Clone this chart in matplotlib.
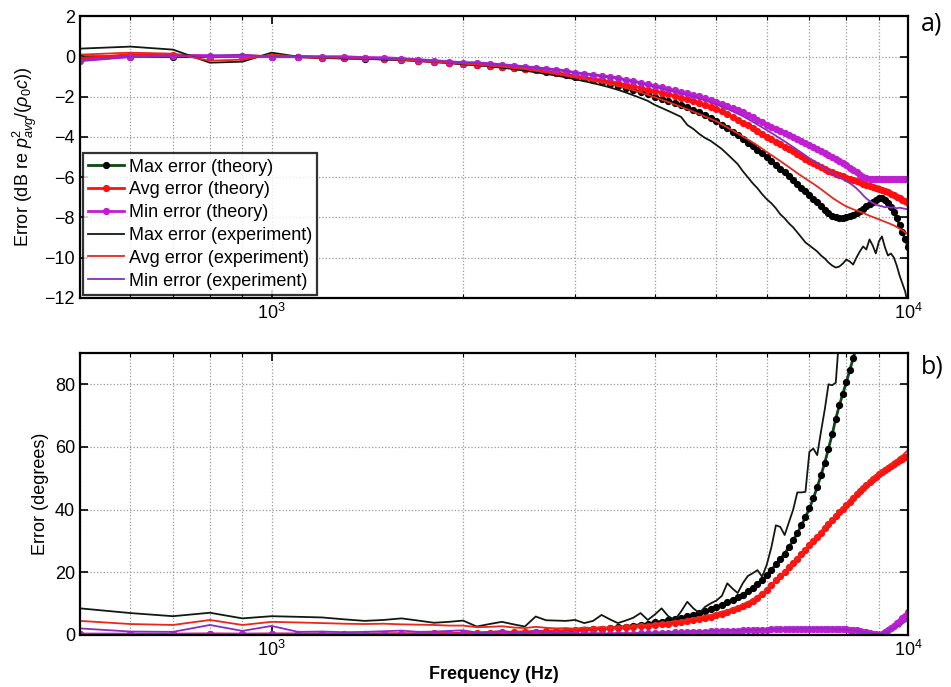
import numpy as np
import matplotlib
matplotlib.use('Agg')
import matplotlib.pyplot as plt
from matplotlib.ticker import LogLocator, NullFormatter

plt.rcParams['font.family'] = ['Liberation Sans', 'DejaVu Sans']
plt.rcParams['mathtext.fontset'] = 'custom'
plt.rcParams['mathtext.rm'] = 'Liberation Sans'
plt.rcParams['mathtext.it'] = 'Liberation Sans:italic'
plt.rcParams['mathtext.bf'] = 'Liberation Sans:bold'

# frequency samples (Hz), 100 Hz steps from 500 Hz to 10 kHz
freq = list(range(500, 10001, 100))

# ---- a) level error (dB) ----
max_theory_db = [
    0.0, 0.0, 0.0, 0.0, 0.0, 0.0,
    0.0, -0.05, -0.05, -0.1, -0.1, -0.15, -0.2, -0.25, -0.3, -0.35,
    -0.4, -0.45, -0.5, -0.56, -0.62, -0.68, -0.75, -0.83, -0.92, -1.0,
    -1.08, -1.16, -1.25, -1.34, -1.44, -1.54, -1.65, -1.76, -1.88, -2.0,
    -2.1, -2.2, -2.3, -2.4, -2.52, -2.64, -2.76, -2.9, -3.05, -3.2,
    -3.38, -3.56, -3.74, -3.92, -4.1, -4.28, -4.46, -4.64, -4.82, -5.0,
    -5.19, -5.38, -5.57, -5.76, -5.95, -6.14, -6.33, -6.52, -6.71, -6.9,
    -7.08, -7.26, -7.44, -7.62, -7.8, -7.92, -8.0, -8.04, -8.03, -7.99,
    -7.93, -7.86, -7.78, -7.68, -7.58, -7.46, -7.34, -7.22, -7.12, -7.06,
    -7.05, -7.15, -7.3, -7.5, -7.75, -8.05, -8.4, -8.75, -9.1, -9.5]
avg_theory_db = [
    -0.1, 0.1, 0.1, 0.0, 0.05, 0.0,
    0.0, -0.05, -0.05, -0.05, -0.1, -0.15, -0.2, -0.25, -0.3, -0.35,
    -0.4, -0.45, -0.5, -0.55, -0.6, -0.65, -0.72, -0.8, -0.88, -0.96,
    -1.03, -1.1, -1.17, -1.24, -1.32, -1.4, -1.48, -1.56, -1.64, -1.72,
    -1.8, -1.88, -1.96, -2.04, -2.12, -2.2, -2.3, -2.4, -2.5, -2.6,
    -2.73, -2.86, -3.0, -3.14, -3.28, -3.42, -3.56, -3.7, -3.85, -4.0,
    -4.12, -4.24, -4.36, -4.48, -4.6, -4.72, -4.84, -4.96, -5.08, -5.2,
    -5.3, -5.4, -5.49, -5.58, -5.67, -5.75, -5.83, -5.9, -5.96, -6.02,
    -6.08, -6.14, -6.2, -6.26, -6.32, -6.38, -6.43, -6.48, -6.53, -6.58,
    -6.64, -6.7, -6.76, -6.83, -6.9, -6.97, -7.04, -7.12, -7.2, -7.3]
min_theory_db = [
    -0.2, 0.0, 0.05, 0.05, 0.0, 0.0,
    0.0, 0.0, 0.0, -0.05, -0.05, -0.1, -0.15, -0.2, -0.25, -0.3,
    -0.3, -0.35, -0.4, -0.45, -0.5, -0.55, -0.6, -0.65, -0.7, -0.8,
    -0.85, -0.9, -0.95, -1.0, -1.05, -1.15, -1.2, -1.3, -1.38, -1.45,
    -1.52, -1.6, -1.68, -1.75, -1.82, -1.9, -1.98, -2.06, -2.15, -2.24,
    -2.34, -2.44, -2.55, -2.66, -2.78, -2.9, -3.02, -3.14, -3.27, -3.4,
    -3.5, -3.6, -3.7, -3.8, -3.9, -4.0, -4.1, -4.2, -4.3, -4.4,
    -4.5, -4.6, -4.7, -4.8, -4.9, -5.0, -5.1, -5.2, -5.3, -5.4,
    -5.52, -5.64, -5.76, -5.88, -5.97, -6.03, -6.07, -6.09, -6.1, -6.1,
    -6.1, -6.1, -6.1, -6.1, -6.1, -6.1, -6.1, -6.1, -6.1, -6.1]
max_exp_db = [
    0.4, 0.5, 0.35, -0.3, -0.25, 0.2,
    0.0, -0.05, -0.1, -0.1, -0.15, -0.15, -0.2, -0.25, -0.3, -0.38,
    -0.42, -0.48, -0.55, -0.62, -0.7, -0.78, -0.86, -0.94, -1.03, -1.13,
    -1.22, -1.32, -1.42, -1.53, -1.65, -1.78, -1.92, -2.06, -2.2, -2.4,
    -2.55, -2.7, -2.85, -3.0, -3.4, -3.6, -3.85, -4.05, -4.2, -4.4,
    -4.6, -4.85, -5.1, -5.35, -5.7, -6.0, -6.3, -6.55, -6.85, -7.1,
    -7.3, -7.55, -7.85, -8.05, -8.3, -8.5, -8.75, -9.0, -9.25, -9.4,
    -9.55, -9.7, -9.9, -10.05, -10.25, -10.4, -10.5, -10.45, -10.3, -10.1,
    -10.2, -10.35, -10.0, -9.7, -9.45, -9.6, -9.1, -9.4, -9.8, -9.2,
    -8.95, -9.5, -9.9, -9.8, -10.0, -10.4, -10.9, -11.3, -11.7, -12.4]
avg_exp_db = [
    0.1, 0.2, 0.15, -0.2, -0.15, 0.1,
    0.0, -0.05, -0.05, -0.1, -0.1, -0.15, -0.2, -0.25, -0.3, -0.35,
    -0.4, -0.45, -0.5, -0.56, -0.62, -0.7, -0.78, -0.86, -0.94, -1.02,
    -1.1, -1.18, -1.27, -1.36, -1.46, -1.56, -1.67, -1.78, -1.9, -2.02,
    -2.14, -2.26, -2.38, -2.5, -2.62, -2.74, -2.86, -2.98, -3.1, -3.22,
    -3.37, -3.52, -3.67, -3.82, -3.97, -4.12, -4.27, -4.42, -4.58, -4.75,
    -4.9, -5.05, -5.2, -5.35, -5.5, -5.65, -5.8, -5.94, -6.07, -6.2,
    -6.33, -6.46, -6.6, -6.74, -6.88, -7.02, -7.14, -7.25, -7.36, -7.46,
    -7.53, -7.6, -7.66, -7.72, -7.78, -7.85, -7.92, -7.98, -8.04, -8.1,
    -8.16, -8.22, -8.28, -8.34, -8.4, -8.48, -8.56, -8.65, -8.75, -8.85]
min_exp_db = [
    -0.2, 0.0, 0.05, 0.05, 0.1, 0.0,
    0.0, 0.0, -0.05, -0.05, -0.1, -0.1, -0.15, -0.2, -0.25, -0.3,
    -0.32, -0.36, -0.4, -0.45, -0.5, -0.55, -0.6, -0.66, -0.72, -0.8,
    -0.86, -0.92, -0.98, -1.04, -1.1, -1.18, -1.25, -1.33, -1.41, -1.5,
    -1.58, -1.66, -1.74, -1.82, -1.9, -1.99, -2.08, -2.17, -2.27, -2.37,
    -2.48, -2.6, -2.72, -2.84, -2.96, -3.1, -3.24, -3.38, -3.52, -3.66,
    -3.8, -3.94, -4.08, -4.22, -4.36, -4.5, -4.64, -4.78, -4.92, -5.06,
    -5.18, -5.3, -5.42, -5.54, -5.66, -5.78, -5.9, -6.0, -6.1, -6.2,
    -6.3, -6.42, -6.56, -6.72, -6.9, -7.06, -7.18, -7.28, -7.36, -7.42,
    -7.45, -7.5, -7.48, -7.52, -7.5, -7.55, -7.52, -7.55, -7.58, -7.6]

# ---- b) phase error (degrees) ----
nan = np.nan
max_theory_deg = [
    0, 0, 0, 0, 0, 0,
    0, 0, 0, 0, 0, 0.1, 0.1, 0.1, 0.2, 0.2,
    0.3, 0.3, 0.4, 0.5, 0.6, 0.7, 0.9, 1.0, 1.2, 1.4,
    1.6, 1.8, 2.0, 2.2, 2.5, 2.7, 3.0, 3.3, 3.6, 4.0,
    4.3, 4.7, 5.1, 5.5, 6.0, 6.5, 7.0, 7.6, 8.2, 8.9,
    9.6, 10.4, 11.2, 12.0, 12.9, 13.9, 15.0, 16.2, 17.5, 19.0,
    20.8, 22.5, 24.2, 26.0, 28.0, 30.2, 32.5, 35.0, 37.6, 40.4,
    43.6, 47.2, 51.0, 55.0, 59.5, 64.0, 69.0, 73.3, 77.0, 80.7,
    84.5, 88.3, 92.0, 96.0, nan, nan, nan, nan, nan, nan,
    nan, nan, nan, nan, nan, nan, nan, nan, nan, nan]
avg_theory_deg = [
    0.2, 0.2, 0.2, 0.3, 0.2, 0.3,
    0.3, 0.3, 0.3, 0.3, 0.4, 0.4, 0.4, 0.5, 0.5, 0.6,
    0.6, 0.7, 0.8, 0.9, 1.0, 1.1, 1.2, 1.3, 1.4, 1.6,
    1.7, 1.8, 2.0, 2.1, 2.3, 2.4, 2.6, 2.8, 3.0, 3.2,
    3.4, 3.6, 3.9, 4.1, 4.4, 4.7, 5.0, 5.4, 5.8, 6.3,
    6.8, 7.3, 7.9, 8.5, 9.2, 10.0, 10.9, 11.8, 13.0, 14.5,
    16.0, 17.4, 18.8, 20.2, 21.6, 23.0, 24.4, 25.8, 27.2, 28.6,
    30.0, 31.4, 32.7, 34.0, 35.3, 36.6, 37.9, 39.1, 40.3, 41.4,
    42.6, 43.8, 44.9, 46.0, 47.0, 47.9, 48.8, 49.7, 50.5, 51.3,
    52.0, 52.7, 53.4, 54.0, 54.6, 55.2, 55.7, 56.2, 56.7, 57.2]
min_theory_deg = [
    0.3, 0.3, 0.3, 0.3, 0.3, 0.3,
    0.3, 0.3, 0.3, 0.3, 0.3, 0.3, 0.3, 0.3, 0.3, 0.3,
    0.3, 0.3, 0.3, 0.3, 0.3, 0.3, 0.3, 0.3, 0.3, 0.3,
    0.3, 0.3, 0.3, 0.3, 0.3, 0.4, 0.4, 0.5, 0.5, 0.6,
    0.6, 0.7, 0.8, 0.8, 0.9, 1.0, 1.0, 1.1, 1.2, 1.2,
    1.3, 1.3, 1.4, 1.4, 1.5, 1.5, 1.6, 1.6, 1.7, 1.7,
    1.8, 1.8, 1.8, 1.9, 1.9, 1.9, 2.0, 2.0, 2.0, 2.0,
    2.0, 2.0, 2.0, 2.0, 2.0, 2.0, 1.9, 1.9, 1.8, 1.8,
    1.7, 1.6, 1.5, 1.3, 1.1, 0.9, 0.6, 0.4, 0.2, 0.1,
    0.3, 0.8, 1.5, 2.2, 3.0, 3.8, 4.6, 5.4, 6.2, 7.2]
max_exp_deg = [
    8.5, 7.0, 6.0, 7.1, 5.3, 6.0,
    5.8, 5.6, 5.0, 4.5, 4.8, 5.3, 4.6, 3.9, 4.2, 4.6,
    2.7, 3.5, 4.2, 3.4, 2.7, 5.9, 4.7, 4.6, 4.5, 4.8,
    3.8, 4.5, 6.4, 5.0, 3.8, 4.6, 5.5, 7.0, 4.8, 6.5,
    8.5, 6.0, 4.8, 7.5, 10.6, 8.5, 7.0, 9.0, 10.1, 11.0,
    12.5, 16.5, 14.8, 13.4, 16.5, 18.8, 19.7, 20.7, 18.6, 22.5,
    28.0, 35.0, 34.5, 31.9, 36.0, 40.0, 45.5, 45.5, 45.7, 58.5,
    59.5, 57.4, 65.0, 72.0, 80.0, 79.7, 80.5, 96.0, nan, nan,
    nan, nan, nan, nan, nan, nan, nan, nan, nan, nan,
    nan, nan, nan, nan, nan, nan, nan, nan, nan, nan]
avg_exp_deg = [
    4.5, 3.5, 3.2, 4.8, 3.2, 4.2,
    4.0, 3.8, 3.6, 3.5, 3.6, 3.4, 3.3, 3.2, 3.0, 3.0,
    2.5, 2.6, 2.8, 2.4, 2.2, 2.6, 2.3, 2.1, 2.2, 2.0,
    2.4, 2.2, 2.6, 2.3, 2.5, 2.6, 2.8, 3.2, 3.1, 3.6,
    3.8, 4.0, 4.5, 4.4, 5.0, 5.4, 5.6, 6.2, 6.4, 7.0,
    7.5, 7.8, 8.6, 9.0, 9.8, 10.6, 11.2, 12.5, 13.2, 14.8,
    16.2, 17.2, 19.0, 20.0, 21.8, 22.8, 24.5, 25.6, 27.4, 28.8,
    30.4, 31.5, 33.2, 34.2, 35.8, 37.0, 38.4, 39.5, 40.8, 41.8,
    43.2, 44.0, 45.4, 46.2, 47.5, 48.2, 49.4, 50.0, 51.0, 51.6,
    52.6, 53.0, 54.0, 54.4, 55.4, 55.9, 56.8, 57.3, 58.2, 59.0]
min_exp_deg = [
    2.1, 1.1, 1.0, 3.2, 1.3, 2.9,
    1.0, 1.1, 0.9, 1.0, 1.2, 1.4, 1.0, 1.1, 1.3, 1.5,
    0.8, 1.0, 1.3, 0.9, 0.7, 1.5, 0.9, 0.6, 0.8, 0.5,
    0.4, 0.6, 0.5, 0.4, 0.6, 0.5, 0.4, 0.7, 0.6, 0.8,
    0.7, 0.9, 1.0, 0.8, 1.1, 1.2, 1.0, 1.3, 1.4, 1.2,
    1.5, 1.3, 1.6, 1.5, 1.7, 1.4, 1.8, 1.6, 1.9, 1.7,
    2.0, 1.8, 2.1, 1.9, 2.2, 1.8, 2.1, 2.3, 1.9, 2.2,
    2.0, 2.3, 1.9, 2.2, 2.0, 2.1, 1.8, 2.0, 1.6, 1.8,
    1.5, 1.6, 1.2, 1.3, 0.9, 1.0, 0.6, 0.5, 0.3, 0.2,
    0.4, 1.2, 0.9, 2.0, 1.8, 3.0, 2.6, 3.8, 4.2, 5.0]

labels = ['Max error (theory)', 'Avg error (theory)', 'Min error (theory)',
          'Max error (experiment)', 'Avg error (experiment)', 'Min error (experiment)']

c_max_th = '#0b4a16'
c_avg_th = '#ff1010'
c_min_th = '#c01ed0'
c_max_ex = '#101a10'
c_avg_ex = '#e8281a'
c_min_ex = '#8a2bc8'

fig = plt.figure(figsize=(9.51, 6.87), dpi=100)
ax1 = fig.add_axes([0.0841, 0.5667, 0.8707, 0.4093])
ax2 = fig.add_axes([0.0841, 0.0757, 0.8707, 0.4105])


def draw(ax, series):
    th_kw = dict(marker='o', markersize=4.2, linewidth=2.0)
    l1, = ax.plot(freq, series[0], color=c_max_th, markerfacecolor='k', markeredgecolor='k', **th_kw)
    l2, = ax.plot(freq, series[1], color=c_avg_th, markerfacecolor=c_avg_th, markeredgecolor=c_avg_th, **th_kw)
    l3, = ax.plot(freq, series[2], color=c_min_th, markerfacecolor=c_min_th, markeredgecolor=c_min_th, **th_kw)
    l4, = ax.plot(freq, series[3], color=c_max_ex, linewidth=1.3)
    l5, = ax.plot(freq, series[4], color=c_avg_ex, linewidth=1.3)
    l6, = ax.plot(freq, series[5], color=c_min_ex, linewidth=1.3)
    ax.set_xscale('log')
    ax.set_xlim(500, 10000)
    ax.xaxis.set_major_locator(LogLocator(base=10))
    ax.xaxis.set_minor_locator(LogLocator(base=10, subs=np.arange(2, 10)))
    ax.xaxis.set_minor_formatter(NullFormatter())
    ax.grid(which='both', axis='x', linestyle=':', color='0.6', linewidth=0.9)
    ax.grid(which='major', axis='y', linestyle=':', color='0.6', linewidth=0.9)
    ax.tick_params(which='both', direction='in', top=True, right=True, labelsize=13)
    ax.tick_params(which='major', length=6, width=1.2)
    ax.tick_params(which='minor', length=3, width=0.8)
    for s in ax.spines.values():
        s.set_linewidth(1.6)
    return [l1, l2, l3, l4, l5, l6]


handles = draw(ax1, [max_theory_db, avg_theory_db, min_theory_db, max_exp_db, avg_exp_db, min_exp_db])
ax1.set_ylim(-12, 2)
ax1.set_yticks(np.arange(-12, 3, 2))
ax1.set_ylabel(r'Error (dB re $p^2_{avg}/(\rho_0c)$)', fontsize=13)
leg = ax1.legend(handles, labels, loc='lower left', fontsize=13, frameon=True, fancybox=False,
                 borderaxespad=0.15, labelspacing=0.32, handlelength=2.0, handletextpad=0.25,
                 borderpad=0.3)
leg.get_frame().set_edgecolor('k')
leg.get_frame().set_linewidth(1.6)

draw(ax2, [max_theory_deg, avg_theory_deg, min_theory_deg, max_exp_deg, avg_exp_deg, min_exp_deg])
ax2.set_ylim(0, 90)
ax2.set_yticks(np.arange(0, 81, 20))
ax2.set_ylabel('Error (degrees)', fontsize=13)
ax2.set_xlabel('Frequency (Hz)', fontsize=13, fontweight='bold')

fig.text(0.968, 0.965, 'a)', fontsize=18, family='Open Sans', va='center')
fig.text(0.968, 0.466, 'b)', fontsize=18, family='Open Sans', va='center')

plt.savefig('out.png', dpi=100)
